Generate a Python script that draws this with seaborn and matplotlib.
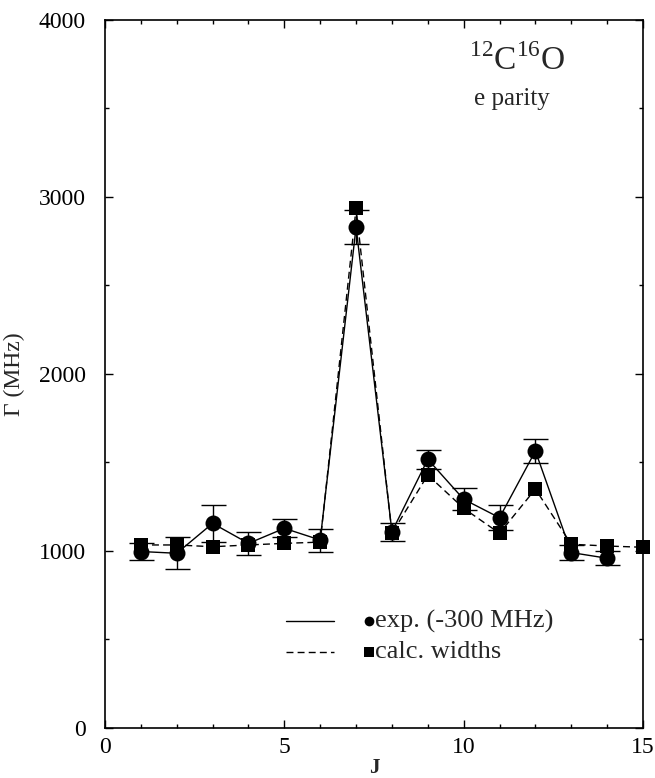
import numpy as np
import pandas as pd
import matplotlib
matplotlib.use("Agg")
import matplotlib.pyplot as plt
from matplotlib.ticker import MultipleLocator
import seaborn as sns

# Rotational quantum number J and level widths (MHz)
j_exp = [1, 2, 3, 4, 5, 6, 7, 8, 9, 10, 11, 12, 13, 14]
gamma_exp = [997, 987, 1156, 1043, 1128, 1062, 2830, 1109, 1518, 1292, 1188, 1565, 991, 959]
gamma_exp_err = [50, 90, 105, 65, 50, 65, 95, 50, 55, 62, 70, 68, 43, 40]

j_calc = [1, 2, 3, 4, 5, 6, 7, 8, 9, 10, 11, 12, 13, 14, 15]
gamma_calc = [1034, 1034, 1024, 1034, 1043, 1050, 2936, 1100, 1429, 1241, 1100, 1350, 1038, 1028, 1021]

x_ticks = [0, 5, 10, 15]
y_ticks = [0, 1000, 2000, 3000, 4000]

sns.set_theme(style="ticks")
plt.rcParams["font.family"] = ["Liberation Serif", "DejaVu Serif"]
plt.rcParams["mathtext.fontset"] = "custom"
plt.rcParams["mathtext.rm"] = "Liberation Serif"

df_exp = pd.DataFrame({"J": j_exp, "Gamma": gamma_exp, "err": gamma_exp_err})
df_calc = pd.DataFrame({"J": j_calc, "Gamma": gamma_calc})

fig = plt.figure(figsize=(6.55, 7.78), dpi=100)
ax = fig.add_axes([0.1603, 0.0643, 0.8214, 0.9100])

# calculated widths: dashed line with squares
sns.lineplot(data=df_calc, x="J", y="Gamma", ax=ax, color="black", lw=1.0,
             dashes=False, linestyle=(0, (5, 3)), marker="s", markersize=9.5,
             markeredgewidth=0, clip_on=False, zorder=3)

# experimental widths: solid line with circles and error bars
ax.errorbar(df_exp["J"], df_exp["Gamma"], yerr=df_exp["err"], fmt="none",
            ecolor="black", elinewidth=1.0, capsize=9, capthick=1.0, zorder=4)
sns.lineplot(data=df_exp, x="J", y="Gamma", ax=ax, color="black", lw=1.0,
             marker="o", markersize=11.5, markeredgewidth=0, zorder=5)

ax.set_xlim(0, 15)
ax.set_ylim(0, 4000)
ax.set_xticks(x_ticks)
ax.set_yticks(y_ticks)
ax.xaxis.set_minor_locator(MultipleLocator(1))
ax.yaxis.set_minor_locator(MultipleLocator(500))
ax.tick_params(which="both", direction="in", top=True, right=True,
               labelsize=17, width=1.0, colors="black")
ax.tick_params(which="major", length=6)
ax.tick_params(which="minor", length=3)
ax.tick_params(axis="y", pad=14)
ax.tick_params(axis="x", pad=6.5)
for s in ax.spines.values():
    s.set_linewidth(1.2)
    s.set_color("black")

ax.set_xlabel("J", fontsize=15, fontweight="bold", labelpad=0)
ax.set_ylabel("Γ (MHz)", fontsize=17, labelpad=10)

# key
ax.plot([0.336, 0.425], [0.151, 0.151], transform=ax.transAxes,
        color="black", lw=1.0, clip_on=False)
ax.plot([0.491], [0.151], transform=ax.transAxes, marker="o", ms=7,
        color="black", mew=0)
ax.text(0.502, 0.151, "exp. (-300 MHz)", transform=ax.transAxes,
        fontsize=19, va="center", ha="left")
ax.plot([0.336, 0.425], [0.107, 0.107], transform=ax.transAxes,
        color="black", lw=1.0, linestyle=(0, (5, 3)))
ax.plot([0.491], [0.107], transform=ax.transAxes, marker="s", ms=6.5,
        color="black", mew=0)
ax.text(0.502, 0.107, "calc. widths", transform=ax.transAxes,
        fontsize=19, va="center", ha="left")

# species annotation
ax.text(0.766, 0.942, r"$^{12}$C$^{16}$O", transform=ax.transAxes,
        fontsize=24, ha="center", va="center")
ax.text(0.757, 0.889, "e parity", transform=ax.transAxes,
        fontsize=18, ha="center", va="center")

fig.savefig("out.png", dpi=100)
